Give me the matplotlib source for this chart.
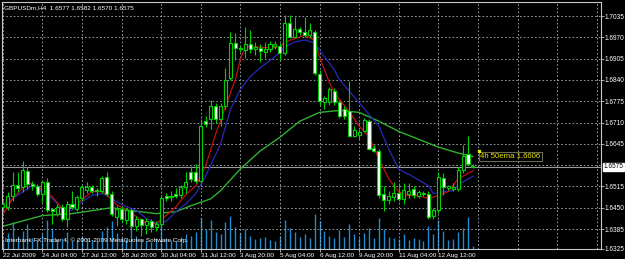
import matplotlib
matplotlib.use("Agg")
import matplotlib.pyplot as plt
from matplotlib.patches import Rectangle

# ---------------- data ----------------
opens = [1.6452, 1.6452, 1.6485, 1.6520, 1.6513, 1.6563, 1.6521, 1.6516, 1.6492, 1.6528,
         1.6445, 1.6432, 1.6452, 1.6417, 1.6460, 1.6447, 1.6480, 1.6503, 1.6513, 1.6500,
         1.6500, 1.6543, 1.6492, 1.6422, 1.6447, 1.6412, 1.6442, 1.6395, 1.6415, 1.6398,
         1.6408, 1.6392, 1.6400, 1.6487, 1.6482, 1.6492, 1.6490, 1.6513, 1.6558, 1.6558,
         1.6533, 1.6715, 1.6720, 1.6760, 1.6720, 1.6760, 1.6846, 1.6952, 1.6937, 1.6932,
         1.6949, 1.6934, 1.6937, 1.6924, 1.6934, 1.6944, 1.6944, 1.6922, 1.7013, 1.6972,
         1.6995, 1.6987, 1.6977, 1.6987, 1.6857, 1.6773, 1.6773, 1.6806, 1.6773, 1.6750,
         1.6745, 1.6670, 1.6672, 1.6685, 1.6715, 1.6631, 1.6624, 1.6493, 1.6473, 1.6483,
         1.6495, 1.6478, 1.6493, 1.6506, 1.6486, 1.6495, 1.6493, 1.6425, 1.6442, 1.6540,
         1.6510, 1.6508, 1.6508, 1.6564, 1.6614, 1.6577]
highs = [1.6472, 1.6497, 1.6558, 1.6558, 1.6593, 1.6573, 1.6533, 1.6523, 1.6533, 1.6540,
         1.6450, 1.6460, 1.6462, 1.6470, 1.6500, 1.6490, 1.6520, 1.6530, 1.6520, 1.6510,
         1.6548, 1.6558, 1.6500, 1.6455, 1.6455, 1.6450, 1.6450, 1.6425, 1.6420, 1.6420,
         1.6415, 1.6410, 1.6490, 1.6495, 1.6500, 1.6510, 1.6520, 1.6558, 1.6578, 1.6585,
         1.6720, 1.6730, 1.6780, 1.6770, 1.6770, 1.6876, 1.6987, 1.6982, 1.6945, 1.7002,
         1.6992, 1.6955, 1.6950, 1.6957, 1.6960, 1.6960, 1.6952, 1.7038, 1.7038, 1.7033,
         1.7002, 1.7033, 1.7013, 1.6992, 1.6870, 1.6790, 1.6820, 1.6815, 1.6780, 1.6760,
         1.6836, 1.6700, 1.6690, 1.6725, 1.6722, 1.6640, 1.6630, 1.6515, 1.6500, 1.6530,
         1.6525, 1.6525, 1.6525, 1.6515, 1.6505, 1.6500, 1.6500, 1.6450, 1.6560, 1.6555,
         1.6520, 1.6525, 1.6575, 1.6640, 1.6670, 1.6582]
lows = [1.6442, 1.6442, 1.6472, 1.6497, 1.6498, 1.6508, 1.6505, 1.6487, 1.6467, 1.6436,
        1.6400, 1.6425, 1.6410, 1.6390, 1.6447, 1.6440, 1.6470, 1.6495, 1.6495, 1.6485,
        1.6495, 1.6487, 1.6425, 1.6395, 1.6405, 1.6400, 1.6385, 1.6378, 1.6365, 1.6370,
        1.6375, 1.6380, 1.6386, 1.6470, 1.6470, 1.6480, 1.6480, 1.6495, 1.6528, 1.6525,
        1.6525, 1.6695, 1.6689, 1.6710, 1.6700, 1.6750, 1.6841, 1.6902, 1.6925, 1.6907,
        1.6922, 1.6915, 1.6895, 1.6907, 1.6925, 1.6935, 1.6902, 1.6917, 1.6967, 1.6967,
        1.6977, 1.6972, 1.6972, 1.6856, 1.6765, 1.6750, 1.6765, 1.6765, 1.6725, 1.6720,
        1.6665, 1.6665, 1.6660, 1.6680, 1.6625, 1.6620, 1.6480, 1.6440, 1.6460, 1.6470,
        1.6470, 1.6460, 1.6480, 1.6480, 1.6480, 1.6485, 1.6415, 1.6415, 1.6435, 1.6490,
        1.6505, 1.6500, 1.6500, 1.6555, 1.6580, 1.6570]
closes = [1.6462, 1.6485, 1.6518, 1.6510, 1.6566, 1.6523, 1.6515, 1.6492, 1.6528, 1.6442,
          1.6439, 1.6452, 1.6417, 1.6462, 1.6452, 1.6482, 1.6513, 1.6513, 1.6500, 1.6505,
          1.6541, 1.6492, 1.6432, 1.6447, 1.6417, 1.6442, 1.6395, 1.6415, 1.6398, 1.6408,
          1.6392, 1.6400, 1.6480, 1.6479, 1.6485, 1.6487, 1.6513, 1.6528, 1.6538, 1.6533,
          1.6700, 1.6705, 1.6760, 1.6720, 1.6760, 1.6841, 1.6952, 1.6937, 1.6934, 1.6949,
          1.6934, 1.6942, 1.6927, 1.6934, 1.6949, 1.6949, 1.6922, 1.7013, 1.6972, 1.6997,
          1.6987, 1.6977, 1.6992, 1.6861, 1.6776, 1.6786, 1.6811, 1.6773, 1.6730, 1.6730,
          1.6670, 1.6687, 1.6682, 1.6717, 1.6629, 1.6624, 1.6488, 1.6473, 1.6486, 1.6495,
          1.6476, 1.6503, 1.6500, 1.6488, 1.6498, 1.6491, 1.6422, 1.6442, 1.6543, 1.6513,
          1.6515, 1.6513, 1.6564, 1.6609, 1.6584, 1.6575]
volumes = [900, 1400, 2400, 1200, 1600, 2200, 1000, 900, 1300, 2600,
           1900, 800, 1000, 1500, 700, 900, 1200, 1000, 800, 700,
           1600, 2000, 2500, 1400, 1100, 900, 2100, 1200, 900, 700,
           600, 900, 2300, 1000, 800, 700, 1100, 1300, 1200, 1500,
           2800, 1800, 2600, 1500, 1300, 2400, 3000, 2000, 1400, 1800,
           1200, 900, 1000, 1100, 800, 700, 1200, 2600, 1900, 1500,
           1100, 1300, 1000, 3100, 2500, 1600, 1200, 1000, 1700, 1100,
           2200, 1300, 1000, 1400, 1900, 1000, 2800, 1800, 1100, 1000,
           900, 1300, 800, 1000, 900, 700, 2100, 1300, 2600, 1600,
           800, 900, 1500, 1900, 2900, 300]

red_idx = [0, 2, 5, 6, 8, 10, 12, 14, 16, 18, 20, 21, 23, 25, 27, 29, 31, 33, 35, 37,
           39, 41, 43, 45, 47, 48, 49, 51, 54, 56, 57, 60, 61, 63, 64, 65, 66, 67, 68, 70,
           72, 74, 76, 78, 80, 82, 84, 86, 88, 90, 92, 95]
red_val = [1.6429, 1.6478, 1.6526, 1.6523, 1.6505, 1.6484, 1.6447, 1.6453, 1.6474, 1.6499,
           1.6499, 1.6490, 1.6459, 1.6444, 1.6423, 1.6402, 1.6402, 1.6426, 1.6453, 1.6490,
           1.6517, 1.6578, 1.6674, 1.6759, 1.6841, 1.6902, 1.6941, 1.6941, 1.6938, 1.6941,
           1.6956, 1.6971, 1.6977, 1.6962, 1.6910, 1.6871, 1.6832, 1.6802, 1.6781, 1.6744,
           1.6699, 1.6668, 1.6599, 1.6538, 1.6499, 1.6487, 1.6487, 1.6478, 1.6487, 1.6499,
           1.6538, 1.6563]
blue_idx = [0, 5, 6, 8, 10, 12, 14, 16, 18, 20, 21, 23, 25, 27, 29, 31, 33, 35, 37, 39,
            41, 44, 46, 48, 50, 52, 55, 57, 59, 61, 63, 65, 67, 68, 72, 76, 78, 80, 83, 86,
            87, 89, 91, 92, 95]
blue_val = [1.6458, 1.6508, 1.6518, 1.6499, 1.6478, 1.6447, 1.6442, 1.6468, 1.6488, 1.6493,
            1.6488, 1.6468, 1.6453, 1.6442, 1.6417, 1.6402, 1.6408, 1.6438, 1.6462, 1.6493,
            1.6547, 1.6644, 1.6750, 1.6811, 1.6850, 1.6877, 1.6911, 1.6941, 1.6956, 1.6962,
            1.6953, 1.6911, 1.6871, 1.6841, 1.6771, 1.6699, 1.6629, 1.6568, 1.6544, 1.6517,
            1.6493, 1.6499, 1.6502, 1.6520, 1.6546]
green_idx = [0, 8, 14, 22, 26, 31, 35, 38, 42, 44, 48, 52, 56, 60, 64, 68, 72, 76, 80,
             84, 88, 92, 95]
green_val = [1.6393, 1.6426, 1.6432, 1.6450, 1.6441, 1.6432, 1.6438, 1.6456, 1.6477, 1.6502,
             1.6568, 1.6623, 1.6665, 1.6714, 1.6741, 1.6747, 1.6741, 1.6714, 1.6683, 1.6659,
             1.6635, 1.6617, 1.6606]

price_ticks = [1.7035, 1.6970, 1.6905, 1.6840, 1.6775, 1.6710, 1.6645, 1.6515, 1.6450,
               1.6385, 1.6325]
grid_prices = [1.7035, 1.6970, 1.6905, 1.6840, 1.6775, 1.6710, 1.6645, 1.6580, 1.6515,
               1.6450, 1.6385]
date_labels = ["22 Jul 2009", "24 Jul 04:00", "27 Jul 12:00", "28 Jul 20:00", "30 Jul 04:00",
               "31 Jul 12:00", "3 Aug 20:00", "5 Aug 04:00", "6 Aug 12:00", "9 Aug 20:00",
               "11 Aug 04:00", "12 Aug 12:00"]
label_step = 8
title_text = "GBPUSDm,H4  1.6577 1.6582 1.6570 1.6575"
bid_price = 1.6575
ema_label = "4h 50ema 1.6606"
ema_label_price = 1.6606
copyright_text = "Interbank FX Trader 4, \u00a9 2001-2009 MetaQuotes Software Corp."

# ---------------- style ----------------
plt.rcParams["font.family"] = ["Liberation Sans Narrow", "Liberation Sans", "DejaVu Sans"]
FS_X = 4.6
FS_Y = 4.7
FS_SMALL = 4.6
BG = "#000000"
CANDLE = "#00d000"
GRID = "#a8b0b8"
FG = "#ffffff"

W, H = 625, 259
fig = plt.figure(figsize=(W / 100, H / 100), dpi=100, facecolor=BG)
L, R, T, B = 2, 601, 2, 249
rect = [L / W, (H - B) / H, (R - L) / W, (B - T) / H]

axv = fig.add_axes(rect)
axv.set_facecolor(BG)
ax = fig.add_axes(rect, sharex=axv)
ax.patch.set_visible(False)

n = len(closes)
px_per_bar = 4.95
x0_px = 2.7
xmin = (L - x0_px) / px_per_bar
xmax = (R - x0_px) / px_per_bar
ax.set_xlim(xmin, xmax)
ax.set_ylim(1.6324, 1.7078)

# volumes
axv.vlines(range(n), 0, volumes, color="#1f8ad0", lw=1.0)
axv.set_ylim(0, max(volumes) / 0.14)
axv.set_xlim(xmin, xmax)
axv.axis("off")

# grid
for gp in grid_prices:
    ax.axhline(gp, color=GRID, lw=0.6, ls=(0, (2, 2.5)), zorder=1)
for k in range(0, int(xmax) + 1, label_step):
    ax.axvline(k, color=GRID, lw=0.6, ls=(0, (2, 2.5)), zorder=1)

# bid line
ax.axhline(bid_price, color="#9a9a9a", lw=0.8, zorder=1.5)

# moving averages
ax.plot(green_idx, green_val, color="#30b030", lw=1.0, zorder=2)
ax.plot(blue_idx, blue_val, color="#2828b8", lw=0.9, zorder=2)
ax.plot(red_idx, red_val, color="#c01010", lw=0.9, zorder=2)

# candles
bw = 0.62
for i in range(n):
    o, h, l, c = opens[i], highs[i], lows[i], closes[i]
    ax.vlines(i, l, h, color=CANDLE, lw=0.8, zorder=3)
    lo, hi = min(o, c), max(o, c)
    if hi - lo < 0.00012:
        ax.hlines((o + c) / 2, i - bw / 2, i + bw / 2, color=CANDLE, lw=0.9, zorder=4)
    else:
        face = BG if c > o else "#ffffff"
        ax.add_patch(Rectangle((i - bw / 2, lo), bw, hi - lo, facecolor=face,
                               edgecolor=CANDLE, lw=0.8, zorder=4))

# axes frame and ticks
for s in ax.spines.values():
    s.set_color("#c8c8c8")
    s.set_linewidth(0.8)
ax.yaxis.tick_right()
ax.set_yticks(price_ticks)
ax.set_yticklabels([f"{p:.4f}" for p in price_ticks])
ax.tick_params(axis="y", colors="#c8c8c8", labelcolor=FG, labelsize=FS_Y, length=2.0,
               width=0.6, pad=0.8)
ax.set_xticks(range(0, label_step * len(date_labels), label_step))
ax.set_xticklabels(date_labels, ha="left")
ax.tick_params(axis="x", colors="#c8c8c8", labelcolor=FG, labelsize=FS_X, length=2.5,
               width=0.6, pad=0.5)

# bid price box
ax.text(1.0 + 2.2 / (R - L), bid_price, f"{bid_price:.4f}", transform=ax.get_yaxis_transform(),
        ha="left", va="center", fontsize=FS_Y, color="#000000",
        bbox=dict(boxstyle="square,pad=0.1", facecolor="#ffffff", edgecolor="#ffffff"),
        zorder=10, clip_on=False)

# texts
ax.text(0.004, 0.985, title_text, transform=ax.transAxes, ha="left", va="top",
        fontsize=FS_SMALL, color=FG, zorder=10)
ax.text(0.005, 0.035, copyright_text, transform=ax.transAxes, ha="left", va="center",
        fontsize=FS_SMALL, color=FG, zorder=10)
ax.text(n + 0.5, ema_label_price, ema_label, ha="left", va="center", fontsize=5.6,
        family=["Liberation Sans", "DejaVu Sans"], color="#e6e600", zorder=10,
        bbox=dict(boxstyle="square,pad=0.15", facecolor="none", edgecolor="#707058", lw=0.7))
ax.plot([n + 0.3], [ema_label_price + 0.0016], marker="s", ms=1.6, color="#e6e600", zorder=11)

fig.savefig("out.png", dpi=100, facecolor=BG)
